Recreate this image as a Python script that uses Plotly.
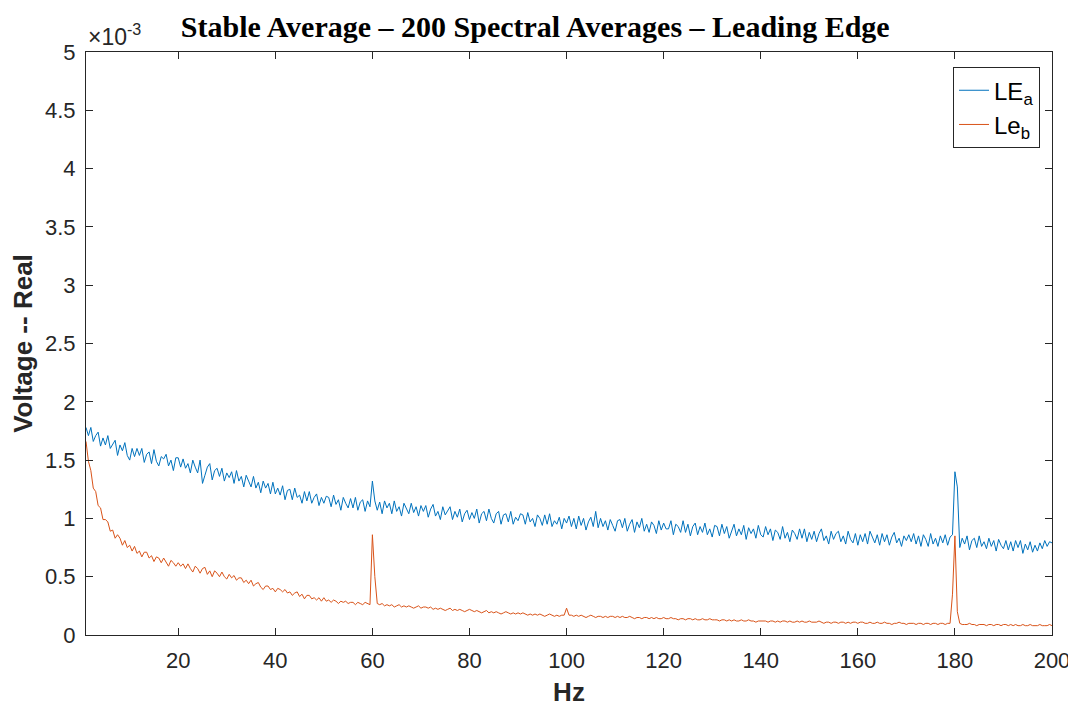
import numpy as np
import plotly.graph_objects as go

# Grille de fréquences (Hz), pas de 0,5 Hz de 1 à 200
FREQ_START = 1.0
FREQ_STEP = 0.5
FREQ_STOP = 200.0

# LE_a, en unités de 1e-5 V (une ligne = 10 Hz)
LE_A = [
    178, 171, 178, 166, 171, 174, 162, 169, 163, 171, 160, 164, 167, 154, 163, 158, 165, 154, 150, 160,
    153, 160, 154, 160, 148, 155, 157, 147, 159, 149, 145, 153, 151, 155, 145, 150, 141, 152, 152, 144,
    151, 143, 147, 139, 150, 144, 139, 150, 130, 137, 144, 147, 133, 141, 143, 136, 143, 132, 139, 135,
    140, 130, 141, 132, 136, 127, 137, 132, 127, 136, 126, 131, 122, 132, 126, 130, 121, 131, 121, 126,
    120, 128, 116, 124, 125, 116, 126, 118, 120, 113, 123, 115, 123, 113, 118, 121, 111, 118, 113, 119,
    118, 110, 120, 112, 116, 107, 118, 113, 109, 117, 109, 118, 107, 114, 116, 106, 115, 110, 132, 115,
    107, 114, 104, 115, 109, 113, 104, 115, 106, 110, 102, 113, 109, 104, 113, 105, 110, 102, 111, 106,
    111, 101, 108, 112, 102, 106, 99, 110, 103, 107, 110, 99, 106, 101, 108, 97, 104, 107, 99, 105,
    100, 108, 96, 104, 106, 98, 108, 100, 96, 104, 106, 95, 103, 104, 97, 106, 95, 101, 98, 104,
    103, 95, 105, 97, 100, 93, 103, 100, 94, 103, 95, 104, 93, 98, 95, 101, 91, 100, 96, 102,
    93, 100, 91, 102, 94, 100, 90, 97, 101, 93, 106, 92, 100, 93, 98, 90, 99, 94, 89, 98,
    99, 92, 100, 89, 95, 99, 88, 97, 92, 100, 89, 95, 88, 97, 94, 87, 98, 90, 96, 91,
    91, 98, 86, 95, 93, 88, 98, 88, 95, 85, 93, 96, 86, 93, 88, 96, 86, 91, 84, 94,
    93, 85, 95, 87, 93, 83, 90, 95, 85, 91, 86, 94, 82, 92, 87, 91, 83, 94, 86, 84,
    93, 86, 91, 81, 90, 88, 82, 93, 83, 88, 80, 90, 87, 82, 91, 83, 91, 80, 88, 82,
    89, 80, 87, 91, 81, 85, 78, 89, 82, 87, 89, 80, 85, 78, 89, 82, 79, 87, 77, 86,
    80, 87, 78, 89, 84, 79, 86, 77, 87, 80, 86, 77, 84, 88, 79, 83, 76, 85, 81, 86,
    80, 87, 78, 85, 76, 86, 82, 76, 87, 78, 83, 76, 85, 79, 86, 77, 84, 86, 140, 127,
    75, 83, 78, 85, 73, 81, 83, 75, 85, 76, 80, 74, 83, 76, 81, 72, 82, 77, 74, 81,
    73, 80, 72, 81, 75, 81, 70, 78, 73, 80, 71, 77, 72, 79, 74, 81, 76, 80, 79,
]

# Le_b, en unités de 1e-5 V
LE_B = [
    166, 149, 141, 126, 123, 111, 109, 99, 99, 97, 89, 90, 83, 86, 83, 77, 81, 75, 77, 72,
    76, 70, 72, 67, 71, 71, 66, 68, 63, 67, 66, 62, 66, 62, 59, 64, 62, 59, 62, 59,
    61, 57, 61, 57, 54, 59, 57, 53, 57, 58, 52, 55, 50, 55, 53, 50, 54, 50, 48, 52,
    49, 51, 47, 49, 49, 45, 47, 44, 47, 42, 44, 45, 41, 39, 42, 42, 39, 40, 37, 40,
    39, 37, 39, 36, 37, 34, 36, 37, 33, 35, 31, 34, 34, 31, 32, 30, 32, 29, 32, 29,
    30, 28, 30, 29, 27, 29, 28, 29, 27, 28, 28, 26, 28, 27, 26, 28, 27, 26, 86, 50,
    27, 26, 27, 25, 26, 25, 26, 24, 25, 26, 24, 25, 24, 25, 24, 23, 24, 25, 23, 24,
    24, 23, 24, 22, 23, 22, 23, 22, 21, 22, 23, 21, 22, 21, 22, 21, 20, 21, 22, 21,
    20, 21, 20, 19, 20, 21, 19, 20, 19, 20, 19, 18, 19, 20, 19, 18, 19, 18, 19, 18,
    19, 18, 17, 18, 17, 18, 17, 18, 17, 16, 17, 18, 17, 16, 17, 16, 17, 17, 23, 17,
    17, 16, 17, 16, 17, 16, 15, 16, 17, 16, 15, 16, 16, 15, 16, 15, 16, 16, 15, 16,
    15, 16, 15, 15, 16, 15, 14, 15, 15, 14, 15, 15, 14, 15, 14, 15, 14, 14, 15, 14,
    14, 15, 14, 14, 13, 14, 14, 13, 14, 14, 13, 14, 13, 13, 14, 13, 13, 14, 13, 13,
    13, 12, 13, 13, 12, 13, 12, 13, 12, 12, 13, 12, 12, 13, 12, 12, 11, 12, 12, 12,
    12, 11, 12, 12, 11, 12, 11, 12, 12, 11, 12, 11, 11, 12, 11, 12, 11, 11, 12, 11,
    11, 11, 12, 11, 10, 11, 11, 10, 11, 11, 10, 11, 11, 10, 11, 10, 11, 11, 10, 11,
    11, 10, 10, 11, 10, 10, 11, 10, 10, 11, 10, 10, 9, 10, 10, 11, 10, 10, 9, 10,
    10, 10, 9, 10, 10, 9, 10, 10, 9, 10, 10, 9, 10, 10, 9, 10, 10, 35, 85, 20,
    10, 9, 9, 9, 10, 9, 9, 8, 9, 9, 9, 8, 9, 9, 8, 9, 9, 8, 9, 9,
    8, 9, 8, 9, 8, 8, 9, 8, 8, 9, 8, 8, 8, 9, 8, 8, 8, 9, 8,
]

X_TICKS = [20, 40, 60, 80, 100, 120, 140, 160, 180, 200]
Y_TICKS = [0, 0.5, 1, 1.5, 2, 2.5, 3, 3.5, 4, 4.5, 5]
Y_TICK_TEXT = ["0", "0.5", "1", "1.5", "2", "2.5", "3", "3.5", "4", "4.5", "5"]

BLUE = "#0072BD"
ORANGE = "#D95319"
AXIS = "#262626"
SANS = "Liberation Sans, Arial"

freq = np.arange(FREQ_START, FREQ_STOP + FREQ_STEP / 2, FREQ_STEP)
# Passage en unités de 1e-3 V pour l'axe
le_a = np.array(LE_A) / 100
le_b = np.array(LE_B) / 100

fig = go.Figure()
fig.add_trace(go.Scatter(x=freq, y=le_a, mode="lines", name="LE<sub>a</sub>",
                         line=dict(color=BLUE, width=1)))
fig.add_trace(go.Scatter(x=freq, y=le_b, mode="lines", name="Le<sub>b</sub>",
                         line=dict(color=ORANGE, width=1)))

axis_common = dict(
    showgrid=False, zeroline=False, automargin=False,
    showline=True, linecolor=AXIS, linewidth=1, mirror="ticks",
    ticks="inside", ticklen=7, tickcolor=AXIS, tickwidth=1,
    tickfont=dict(family=SANS, size=22, color=AXIS),
)

fig.update_xaxes(
    range=[FREQ_START, FREQ_STOP], tickvals=X_TICKS, ticklabelstandoff=6,
    title=dict(text="<b>Hz</b>", font=dict(family=SANS, size=26, color=AXIS), standoff=10),
    **axis_common,
)
fig.update_yaxes(
    range=[0, 5], tickvals=Y_TICKS, ticktext=Y_TICK_TEXT, ticklabelstandoff=5,
    title=dict(text="<b>Voltage -- Real</b>", font=dict(family=SANS, size=26, color=AXIS),
               standoff=6),
    **axis_common,
)

# La page ajoute une marge de 8 px autour du graphique : marges compensées
fig.update_layout(
    width=1076, height=709,
    margin=dict(l=78, r=32, t=44, b=82),
    paper_bgcolor="white", plot_bgcolor="white",
    title=dict(text="<b>Stable Average – 200 Spectral Averages – Leading Edge</b>",
               font=dict(family="Liberation Serif, Times New Roman", size=30, color="black"),
               x=0.49, xref="container", xanchor="center",
               y=0.9746, yref="container", yanchor="middle", automargin=False),
    legend=dict(x=0.9876, y=0.974, xanchor="right", yanchor="top",
                bgcolor="white", bordercolor=AXIS, borderwidth=1,
                font=dict(family=SANS, size=24, color="black")),
    showlegend=True,
)

# Facteur d'échelle de l'axe Y, façon MATLAB
fig.add_annotation(
    text="×10<sup>-3</sup>", xref="paper", yref="paper", x=0, y=1.0,
    xanchor="left", yanchor="bottom", yshift=0, showarrow=False,
    font=dict(family=SANS, size=23, color=AXIS),
)

fig.write_html("out.html")
